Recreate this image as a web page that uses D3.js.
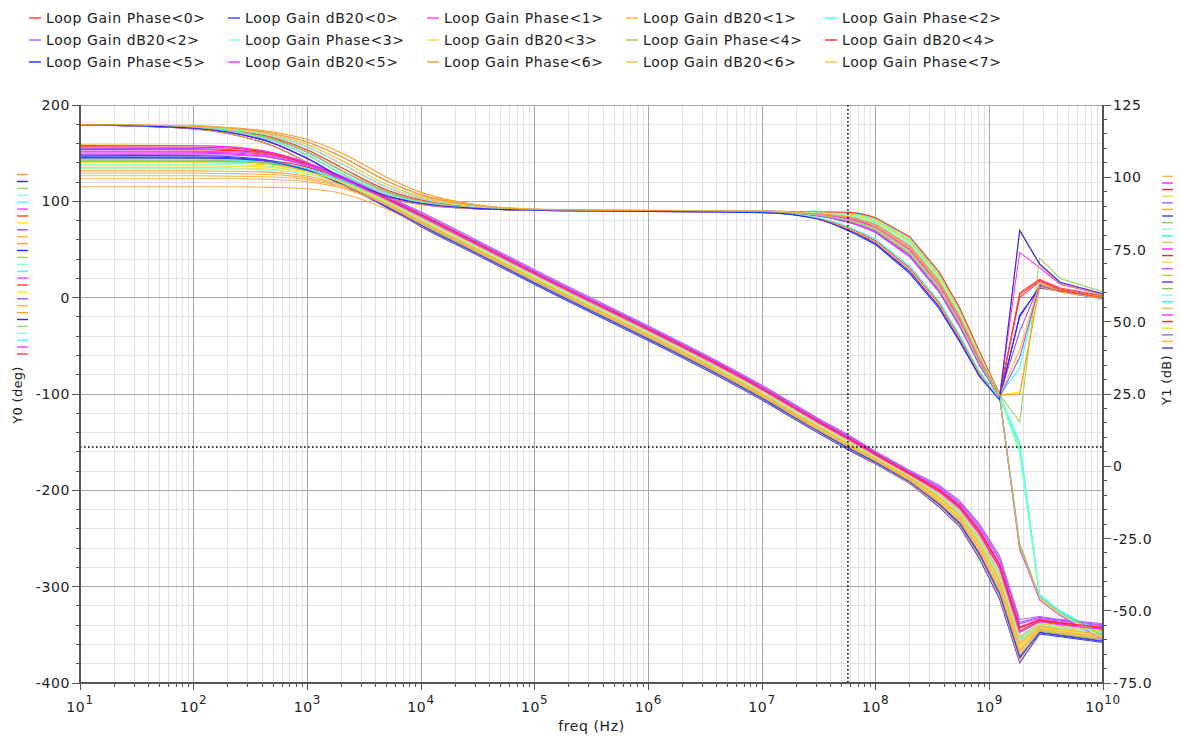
<!DOCTYPE html>
<html>
<head>
<meta charset="utf-8">
<script src="https://cdn.jsdelivr.net/npm/d3@7"></script>
<style>
  body { margin: 0; background: #fff; }
  svg text { font-family: "DejaVu Sans", sans-serif; fill: #222; }
</style>
</head>
<body>
<svg id="chart" width="1181" height="736"></svg>
<script>
// sweep points (Hz); first part drawn smooth, the tail as straight segments
const freq = [1e1, 1e2, 2e2, 5e2, 1e3, 2e3, 5e3, 1e4, 3e4, 1e5, 1e7, 3e7, 6e7, 1e8,
              2e8, 3.6e8, 5.5e8, 8.2e8, 1.23e9, 1.85e9, 2.77e9, 4.2e9, 1e10];
const splitIdx = 13;

// Loop Gain Phase<k>, deg (left axis)
const phaseCurves = [
  [179.7,176.8,173.7,164.5,150.9,132.0,109.8,100.2,93.4,91.0,89.7,88.3,86.5,80.2,59.2,23.2,-14.5,-58.6,-100.6,3,18,9,1],
  [179.8,178.1,176.2,170.5,161.6,146.3,121.0,106.7,95.7,91.7,89.4,86.9,82.5,74.6,51.6,15.6,-21.5,-63.8,-101.8,47,31,14,3],
  [179.7,177.1,174.3,166.0,153.4,135.0,111.8,101.3,93.8,91.1,89.5,87.6,84.5,77.4,55.4,19.4,-18.0,-61.2,-101.2,-73,16,7,-2],
  [179.8,177.8,175.6,169.1,159.0,142.4,117.5,104.6,95.0,91.5,89.2,86.2,80.5,71.8,47.8,11.8,-25.0,-66.4,-102.4,-163,-313,-330,-351],
  [179.6,176.4,172.9,162.7,148.0,128.7,107.7,99.1,93.1,90.9,89.8,89.0,88.5,83.0,63.0,27.0,-11.0,-56.0,-100.0,-129,41,20,6],
  [179.6,175.9,171.9,160.4,144.5,125.0,105.6,98.0,92.7,90.8,89.1,85.5,78.5,69.0,44.0,8.0,-28.5,-69.0,-103.0,-20,12,8,-1],
  [179.8,178.4,176.7,171.9,164.1,150.3,125.0,109.3,96.7,92.0,89.3,86.6,81.5,73.2,49.7,13.7,-23.3,-65.1,-102.1,-255,-311,-327,-352],
  [179.8,177.5,175.0,167.7,156.5,139.0,114.7,103.0,94.4,91.3,89.1,85.9,79.5,70.4,45.9,9.9,-26.8,-67.7,-102.7,-258,-313,-329,-354],
  [179.6,175.9,171.9,160.4,144.5,125.0,105.6,98.0,92.7,90.8,89.4,87.3,83.5,76.0,53.5,17.5,-19.8,-62.5,-101.5,-35,14,8,1],
  [179.7,177.1,174.3,166.0,153.4,135.0,111.8,101.3,93.8,91.1,89.6,88.0,85.5,78.8,57.3,21.3,-16.3,-59.9,-100.9,-98,13,7,1],
  [179.6,176.4,172.9,162.7,148.0,128.7,107.7,99.1,93.1,90.9,88.5,83.1,71.5,59.2,30.7,-5.3,-40.8,-78.1,-105.1,5,19,10,2],
  [179.8,177.5,175.0,167.7,156.5,139.0,114.7,103.0,94.4,91.3,89.1,85.5,78.5,69.0,44.0,8.0,-28.5,-69.0,-103.0,-262,-310,-326,-350],
  [179.7,176.8,173.7,164.5,150.9,132.0,109.8,100.2,93.4,91.0,89.7,88.7,87.5,81.6,61.1,25.1,-12.8,-57.3,-100.3,-150,-308,-326,-350],
  [179.8,178.1,176.2,170.5,161.6,146.3,121.0,106.7,95.7,91.7,89.5,87.6,84.5,77.4,55.4,19.4,-18.0,-61.2,-101.2,-155,-310,-327,-352],
  [179.7,177.1,174.3,166.0,153.4,135.0,111.8,101.3,93.8,91.1,89.2,86.2,80.5,71.8,47.8,11.8,-25.0,-66.4,-102.4,-256,-312,-328,-353],
  [179.5,175.2,170.5,157.4,140.2,121.0,103.5,96.8,92.3,90.7,88.4,82.4,69.5,56.4,26.9,-9.1,-44.3,-80.7,-105.7,-18,10,7,0],
  [179.5,175.2,170.5,157.4,140.2,121.0,103.5,96.8,92.3,90.7,88.5,82.7,70.5,57.8,28.8,-7.2,-42.5,-79.4,-105.4,69,34,15,3],
  [179.8,177.8,175.6,169.1,159.0,142.4,117.5,104.6,95.0,91.5,89.4,86.9,82.5,74.6,51.6,15.6,-21.5,-63.8,-101.8,-54,15,8,0],
  [179.7,176.8,173.7,164.5,150.9,132.0,109.8,100.2,93.4,91.0,89.0,85.2,77.5,67.6,42.1,6.1,-30.3,-70.3,-103.3,-62,13,6,-1],
  [179.6,176.4,172.9,162.7,148.0,128.7,107.7,99.1,93.1,90.9,89.7,88.3,86.5,80.2,59.2,23.2,-14.5,-58.6,-100.6,-158,-312,-329,-353],
  [179.7,177.1,174.3,166.0,153.4,135.0,111.8,101.3,93.8,91.1,89.8,89.0,88.5,83.0,63.0,27.0,-11.0,-56.0,-100.0,0,17,8,0],
  [179.6,175.9,171.9,160.4,144.5,125.0,105.6,98.0,92.7,90.8,89.3,86.6,81.5,73.2,49.7,13.7,-23.3,-65.1,-102.1,-260,-314,-330,-355],
  [179.6,176.4,172.9,162.7,148.0,128.7,107.7,99.1,93.1,90.9,88.6,83.4,72.5,60.6,32.6,-3.4,-39.0,-76.8,-104.8,-152,-309,-325,-349],
  [179.8,177.5,175.0,167.7,156.5,139.0,114.7,103.0,94.4,91.3,89.6,88.0,85.5,78.8,57.3,21.3,-16.3,-59.9,-100.9,-160,-311,-328,-354],
  [179.7,176.8,173.7,164.5,150.9,132.0,109.8,100.2,93.4,91.0,89.1,85.9,79.5,70.4,45.9,9.9,-26.8,-67.7,-102.7,-259,-311,-327,-351],
  [179.6,175.9,171.9,160.4,144.5,125.0,105.6,98.0,92.7,90.8,88.3,82.0,68.5,55.0,25.0,-11.0,-46.0,-82.0,-106.0,70,35,16,4],
  [179.8,178.1,176.2,170.5,161.6,146.3,121.0,106.7,95.7,91.7,89.4,87.3,83.5,76.0,53.5,17.5,-19.8,-62.5,-101.5,-100,11,6,-1]
];

// Loop Gain dB20<k>, dB (right axis)
const dbCurves = [
  [107.1,107.0,106.8,105.4,102.5,97.8,89.8,83.4,73.9,63.4,23.4,12.4,5.8,1.3,-5.6,-13.3,-20.1,-30.8,-44.5,-66.5,-57.4,-58.4,-60.4],
  [111.2,111.0,110.6,108.3,104.5,99.2,91.5,85.4,75.9,65.4,25.4,14.4,7.8,2.9,-3.8,-10.3,-16.5,-26.0,-38.5,-60.5,-55.0,-56.0,-57.8],
  [110.0,109.9,109.6,108.2,105.0,100.2,93.1,87.5,78.0,67.5,27.5,16.5,9.9,4.7,-2.0,-7.3,-12.9,-21.2,-32.5,-54.5,-52.6,-53.6,-55.2],
  [103.4,103.4,103.3,102.7,101.2,97.8,90.9,84.8,75.4,64.9,24.9,13.9,7.3,2.5,-4.2,-11.0,-17.4,-27.2,-40.0,-62.0,-55.6,-56.6,-58.4],
  [106.6,106.6,106.4,105.6,103.5,99.5,92.6,87.0,77.5,67.0,27.0,16.0,9.4,4.3,-2.4,-8.0,-13.8,-22.4,-34.0,-56.0,-53.2,-54.2,-55.8],
  [108.4,108.3,108.1,106.8,103.9,99.3,91.8,85.9,76.4,65.9,25.9,14.9,8.3,3.4,-3.3,-9.5,-15.6,-24.8,-37.0,-59.0,-54.4,-55.4,-57.1],
  [101.4,101.4,101.3,100.9,99.7,96.8,90.0,83.8,74.4,63.9,23.9,12.9,6.3,1.7,-5.1,-12.5,-19.2,-29.6,-43.0,-65.0,-56.8,-57.8,-59.7],
  [105.4,105.4,105.3,104.6,102.7,99.0,92.1,86.5,77.0,66.5,26.5,15.5,8.9,3.8,-2.9,-8.8,-14.7,-23.6,-35.5,-57.5,-53.8,-54.8,-56.5],
  [104.4,104.4,104.3,103.6,101.9,98.3,91.3,85.3,75.9,65.4,25.3,14.3,7.7,2.8,-3.9,-10.5,-16.8,-26.3,-38.9,-61.0,-55.3,-56.2,-58.0],
  [106.0,105.9,105.8,104.8,102.4,98.1,90.6,84.4,74.9,64.4,24.4,13.4,6.8,2.1,-4.7,-11.8,-18.3,-28.4,-41.5,-63.5,-56.2,-57.2,-59.1],
  [107.6,107.5,107.2,105.6,102.4,97.5,89.5,82.9,73.4,62.9,22.9,11.9,5.3,0.8,-6.0,-14.0,-21.0,-32.0,-46.0,-68.0,-58.0,-59.0,-61.0],
  [96.7,96.7,96.7,96.5,96.0,94.4,89.0,83.2,73.8,63.4,23.3,12.3,5.7,1.1,-5.8,-13.6,-20.5,-31.2,-45.0,-67.2,-57.0,-58.0,-60.1],
  [109.1,109.0,108.8,107.6,104.9,100.4,93.4,88.0,78.5,68.0,28.0,17.0,10.4,5.1,-1.5,-6.5,-12.0,-20.0,-31.0,-53.0,-52.0,-53.0,-54.5],
  [105.0,105.0,104.8,104.1,102.1,98.2,90.9,84.9,75.4,64.9,24.8,13.8,7.2,2.4,-4.4,-11.3,-17.7,-27.6,-40.5,-62.6,-55.9,-56.8,-58.7],
  [110.5,110.4,110.1,108.2,104.8,99.7,92.3,86.5,77.0,66.5,26.6,15.6,9.0,3.9,-2.7,-8.5,-14.3,-23.2,-35.0,-57.0,-53.5,-54.6,-56.2],
  [108.8,108.7,108.5,107.2,104.4,99.8,92.6,87.0,77.5,67.0,27.1,16.1,9.5,4.4,-2.2,-7.7,-13.5,-22.0,-33.6,-55.5,-53.0,-54.0,-55.6],
  [99.5,99.5,99.5,99.2,98.4,96.2,90.2,84.3,74.8,64.4,24.3,13.3,6.7,2.0,-4.9,-12.1,-18.7,-28.9,-42.0,-64.2,-56.5,-57.5,-59.4],
  [106.3,106.3,106.1,105.2,103.0,98.8,91.8,85.9,76.4,65.9,25.8,14.8,8.2,3.3,-3.5,-9.8,-16.0,-25.2,-37.5,-59.6,-54.7,-55.6,-57.4],
  [103.0,103.0,102.9,102.4,101.1,97.9,91.2,85.3,75.9,65.4,25.5,14.5,7.9,3.0,-3.6,-10.0,-16.2,-25.6,-38.0,-60.0,-54.8,-55.8,-57.6],
  [105.7,105.6,105.5,104.5,102.1,97.8,90.2,83.9,74.4,63.9,23.8,12.8,6.2,1.6,-5.3,-12.8,-19.6,-30.1,-43.6,-65.7,-57.1,-58.1,-60.0],
  [106.8,106.7,106.5,105.2,102.4,97.7,89.8,83.4,73.9,63.4,23.5,12.5,5.9,1.4,-5.5,-13.0,-19.8,-30.4,-44.0,-66.0,-57.6,-58.6,-60.6],
  [102.2,102.2,102.1,101.7,100.4,97.4,90.8,84.8,75.4,64.9,25.0,14.0,7.4,2.6,-4.0,-10.7,-17.0,-26.8,-39.5,-61.4,-55.4,-56.4,-58.2],
  [107.9,107.8,107.7,106.7,104.3,99.9,93.0,87.5,78.0,67.5,27.6,16.6,10.0,4.8,-1.8,-7.0,-12.5,-20.7,-32.0,-54.0,-52.3,-53.3,-54.9],
  [104.0,104.0,103.9,103.3,101.8,98.4,91.7,85.8,76.4,65.9,25.9,14.9,8.3,3.4,-3.3,-9.5,-15.6,-24.8,-37.0,-59.0,-54.4,-55.4,-57.1],
  [109.6,109.5,109.3,107.8,104.7,99.9,92.7,87.0,77.5,67.0,27.0,16.0,9.4,4.3,-2.4,-8.0,-13.8,-22.4,-34.0,-56.0,-53.2,-54.2,-55.8],
  [111.0,110.9,110.5,108.5,104.9,99.7,92.3,86.5,77.0,66.5,26.5,15.5,8.9,3.8,-2.9,-8.8,-14.7,-23.6,-35.5,-57.5,-53.8,-54.8,-56.5],
  [100.5,100.5,100.4,100.1,99.2,96.6,90.3,84.3,74.9,64.4,24.4,13.4,6.8,2.1,-4.7,-11.8,-18.3,-28.4,-41.5,-63.5,-56.2,-57.2,-59.1]
];

// signal colours, cycling over Phase<0>, dB20<0>, Phase<1>, dB20<1>, ...
const palette = ["#ff3c3c","#3c3cff","#ff3cff","#ffac3c","#3cffff","#b45aff","#8cffd2","#ffdc32","#a0d264","#ff2828",
                 "#2828ff","#ff28ff","#ff9b28","#ffb450","#ffbe32","#28f0ff","#a050f0","#96ffc8","#ffe600","#96c850"];

const leftTicks = [200, 100, 0, -100, -200, -300, -400];
const rightTicks = [125, 100, 75, 50, 25, 0, -25, -50, -75];
const rightLabels = ["125", "100", "75.0", "50.0", "25.0", "0", "-25.0", "-50.0", "-75.0"];
const decades = [1, 2, 3, 4, 5, 6, 7, 8, 9, 10];
const cursorFreq = 5.7e7;
const cursorPhase = -155;
const legendCount = 15;

const svg = d3.select("#chart");
const L = 80, R = 1103, T = 105, B = 683;

const x = d3.scaleLog().domain([1e1, 1e10]).range([L, R]);
const yL = d3.scaleLinear().domain([-400, 200]).range([B, T]);
const yR = d3.scaleLinear().domain([-75, 125]).range([B, T]);

function phaseColor(k) { return palette[(2 * k) % palette.length]; }
function dbColor(k) { return palette[(2 * k + 1) % palette.length]; }

// grid
const grid = svg.append("g").attr("shape-rendering", "crispEdges").attr("stroke-width", 1);
const minorX = [];
decades.slice(0, -1).forEach(e => { for (let m = 2; m <= 9; m++) minorX.push(m * Math.pow(10, e)); });
grid.selectAll(".mx").data(minorX).enter().append("line")
  .attr("x1", d => x(d)).attr("x2", d => x(d)).attr("y1", T).attr("y2", B).attr("stroke", "#e3e3e3");
const minorY = d3.range(-400, 201, 20).filter(v => v % 100 !== 0);
grid.selectAll(".my").data(minorY).enter().append("line")
  .attr("x1", L).attr("x2", R).attr("y1", d => yL(d)).attr("y2", d => yL(d)).attr("stroke", "#e3e3e3");
grid.selectAll(".Mx").data(decades.slice(1, -1)).enter().append("line")
  .attr("x1", d => x(Math.pow(10, d))).attr("x2", d => x(Math.pow(10, d))).attr("y1", T).attr("y2", B)
  .attr("stroke", "#a6a6a6");
grid.selectAll(".My").data(leftTicks.slice(0, -1)).enter().append("line")
  .attr("x1", L).attr("x2", R).attr("y1", d => yL(d)).attr("y2", d => yL(d)).attr("stroke", "#a6a6a6");

// curves
const lineLo = d3.line().x(d => x(d[0])).y(d => d[1]).curve(d3.curveMonotoneX);
const lineHi = d3.line().x(d => x(d[0])).y(d => d[1]);
function pathFor(vals, yScale) {
  const pts = freq.map((f, i) => [f, yScale(vals[i])]);
  return lineLo(pts.slice(0, splitIdx + 1)) + lineHi(pts.slice(splitIdx));
}
const curves = svg.append("g").attr("fill", "none").attr("stroke-width", 1.1);
phaseCurves.forEach((vals, k) => {
  curves.append("path").attr("d", pathFor(vals, yL)).attr("stroke", phaseColor(k));
  if (dbCurves[k]) curves.append("path").attr("d", pathFor(dbCurves[k], yR)).attr("stroke", dbColor(k));
});

// cursors
svg.append("line").attr("x1", x(cursorFreq)).attr("x2", x(cursorFreq)).attr("y1", T).attr("y2", B)
  .attr("stroke", "#000").attr("stroke-width", 1.6).attr("stroke-dasharray", "1.6,2.4");
svg.append("line").attr("x1", L).attr("x2", R).attr("y1", yL(cursorPhase)).attr("y2", yL(cursorPhase))
  .attr("stroke", "#000").attr("stroke-width", 1.6).attr("stroke-dasharray", "1.6,2.4");

// axes
const ax = svg.append("g").attr("shape-rendering", "crispEdges").attr("stroke", "#555");
ax.append("line").attr("x1", L).attr("x2", L).attr("y1", T).attr("y2", B).attr("stroke-width", 1.5);
ax.append("line").attr("x1", R).attr("x2", R).attr("y1", T).attr("y2", B).attr("stroke-width", 1.5);
ax.append("line").attr("x1", L).attr("x2", R).attr("y1", B).attr("y2", B).attr("stroke-width", 1.5);
ax.selectAll(".lt").data(d3.range(-400, 201, 20)).enter().append("line")
  .attr("x1", d => d % 100 === 0 ? L - 8 : L - 4).attr("x2", L)
  .attr("y1", d => yL(d)).attr("y2", d => yL(d));
ax.selectAll(".rt").data(d3.range(-75, 126, 5)).enter().append("line")
  .attr("x1", R).attr("x2", d => d % 25 === 0 ? R + 8 : R + 4)
  .attr("y1", d => yR(d)).attr("y2", d => yR(d));
ax.selectAll(".bt").data(minorX).enter().append("line")
  .attr("x1", d => x(d)).attr("x2", d => x(d)).attr("y1", B).attr("y2", B + 4);
ax.selectAll(".bT").data(decades.concat([1])).enter().append("line")
  .attr("x1", d => x(Math.pow(10, d))).attr("x2", d => x(Math.pow(10, d))).attr("y1", B).attr("y2", B + 7);

const lab = svg.append("g").style("font-size", "14px").style("letter-spacing", "0.6px");
lab.selectAll(".ll").data(leftTicks).enter().append("text")
  .attr("x", L - 10).attr("y", d => yL(d) + 5).attr("text-anchor", "end").text(d => d);
lab.selectAll(".rl").data(rightTicks).enter().append("text")
  .attr("x", R + 10).attr("y", d => yR(d) + 5).text((d, i) => rightLabels[i]);
const xl = lab.selectAll(".xl").data(decades).enter().append("text")
  .attr("x", d => x(Math.pow(10, d))).attr("y", 712).attr("text-anchor", "middle");
xl.append("tspan").text("10");
xl.append("tspan").attr("dy", -8).style("font-size", "12px").text(d => d);
lab.append("text").attr("x", (L + R) / 2).attr("y", 731).attr("text-anchor", "middle").text("freq (Hz)");
lab.append("text").attr("transform", "translate(22,395) rotate(-90)").attr("text-anchor", "middle")
  .style("font-size", "13px").style("letter-spacing", "0.3px").text("Y0 (deg)");
lab.append("text").attr("transform", "translate(1171,380) rotate(-90)").attr("text-anchor", "middle")
  .style("font-size", "13px").style("letter-spacing", "0.3px").text("Y1 (dB)");

// little colour keys stacked beside the axis titles
svg.append("g").selectAll("line").data(phaseCurves).enter().append("line")
  .attr("x1", 17).attr("x2", 28).attr("y1", (d, k) => 354 - k * 6.9).attr("y2", (d, k) => 354 - k * 6.9)
  .attr("stroke", (d, k) => phaseColor(k)).attr("stroke-width", 1.4);
svg.append("g").selectAll("line").data(dbCurves).enter().append("line")
  .attr("x1", 1162).attr("x2", 1173).attr("y1", (d, k) => 348 - k * 6.6).attr("y2", (d, k) => 348 - k * 6.6)
  .attr("stroke", (d, k) => dbColor(k)).attr("stroke-width", 1.4);

// legend
const leg = svg.append("g").style("font-size", "14px").style("letter-spacing", "0.6px");
d3.range(legendCount).forEach(i => {
  const k = Math.floor(i / 2);
  const name = i % 2 === 0 ? "Loop Gain Phase<" + k + ">" : "Loop Gain dB20<" + k + ">";
  const gx = 29 + (i % 5) * 199, gy = 18 + Math.floor(i / 5) * 22;
  leg.append("line").attr("x1", gx).attr("x2", gx + 12).attr("y1", gy).attr("y2", gy)
    .attr("stroke", palette[i]).attr("stroke-width", 1.4);
  leg.append("text").attr("x", gx + 17).attr("y", gy + 5).text(name);
});
</script>
</body>
</html>
